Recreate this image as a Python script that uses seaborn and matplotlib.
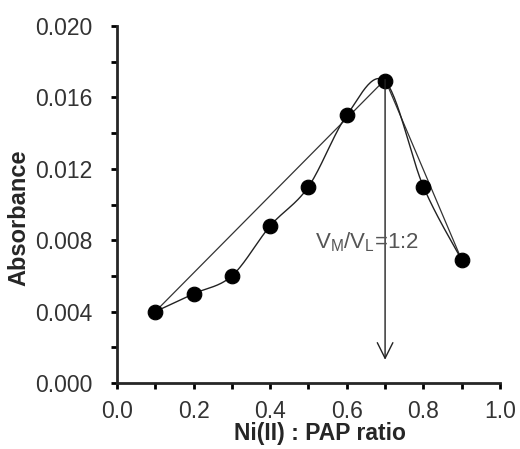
import numpy as np
import pandas as pd
import matplotlib
matplotlib.use('Agg')
import matplotlib.pyplot as plt
import seaborn as sns

# Data
ratio = [0.1, 0.2, 0.3, 0.4, 0.5, 0.6, 0.7, 0.8, 0.9]
absorbance = [0.0040, 0.0050, 0.0060, 0.0088, 0.0110, 0.0150, 0.0169, 0.0110, 0.0069]
# tangent lines of the Job plot (start, peak, end)
left_line_x = [0.1, 0.7]
left_line_y = [0.0040, 0.0170]
right_line_x = [0.7, 0.9]
right_line_y = [0.0170, 0.0069]
arrow_x = 0.7
arrow_top = 0.0170
arrow_bottom = 0.0013

df = pd.DataFrame({'ratio': ratio, 'abs': absorbance})


def smooth(x, y, n=30):
    # Excel style smoothed line (Catmull-Rom through points)
    x = np.asarray(x, float)
    y = np.asarray(y, float)
    px = np.concatenate([[x[0]], x, [x[-1]]])
    py = np.concatenate([[y[0]], y, [y[-1]]])
    xs, ys = [], []
    t = np.linspace(0, 1, n)
    for i in range(1, len(px) - 2):
        p0, p1, p2, p3 = [np.array([px[j], py[j]]) for j in range(i - 1, i + 3)]
        c1 = p1 + (p2 - p0) / 6
        c2 = p2 - (p3 - p1) / 6
        pts = ((1 - t) ** 3)[:, None] * p1 + (3 * (1 - t) ** 2 * t)[:, None] * c1 \
            + (3 * (1 - t) * t ** 2)[:, None] * c2 + (t ** 3)[:, None] * p2
        xs.extend(pts[:, 0])
        ys.extend(pts[:, 1])
    return np.array(xs), np.array(ys)


sns.set_style('ticks')
plt.rcParams['font.family'] = ['Liberation Sans', 'DejaVu Sans']

fig = plt.figure(figsize=(5.2, 4.49), dpi=100)
ax = fig.add_axes([0.225, 0.147, 0.7365, 0.795])

sx, sy = smooth(ratio, absorbance)
ax.plot(sx, sy, color='#222222', lw=1.0, zorder=2)
sns.lineplot(x=left_line_x, y=left_line_y, ax=ax, color='#333333', lw=0.9, zorder=1)
sns.lineplot(x=right_line_x, y=right_line_y, ax=ax, color='#333333', lw=0.9, zorder=1)
sns.scatterplot(data=df, x='ratio', y='abs', ax=ax, color='black', s=110,
                edgecolor='black', zorder=3)

ax.annotate('', xy=(arrow_x, arrow_bottom), xytext=(arrow_x, arrow_top),
            arrowprops=dict(arrowstyle='->', color='#222222', lw=1.0,
                            mutation_scale=28, shrinkA=0, shrinkB=0))
ax.text(0.652, 0.0079, r'V$_\mathregular{M}$/V$_\mathregular{L}$=1:2', ha='center',
        va='center', fontsize=16, color='#555555')

ax.set_xlim(0, 1.0)
ax.set_ylim(0, 0.020)
ax.set_xticks(np.arange(0, 1.01, 0.2))
ax.set_xticks(np.arange(0.1, 1.0, 0.2), minor=True)
ax.set_yticks(np.arange(0, 0.0201, 0.004))
ax.set_yticks(np.arange(0.002, 0.020, 0.004), minor=True)
ax.set_xticklabels([f'{v:.1f}' for v in np.arange(0, 1.01, 0.2)])
ax.set_yticklabels([f'{v:.3f}' for v in np.arange(0, 0.0201, 0.004)])
ax.tick_params(which='both', direction='out', length=4.5, width=2, labelsize=16.5,
               colors='black', labelcolor='#333333')
ax.tick_params(axis='y', pad=13)
ax.tick_params(axis='x', pad=8)
for side in ['left', 'bottom']:
    ax.spines[side].set_linewidth(2)
sns.despine(ax=ax)

ax.set_xlabel('Ni(II) : PAP ratio', fontsize=16.5, fontweight='bold')
ax.set_ylabel('Absorbance', fontsize=17, fontweight='bold')
ax.xaxis.set_label_coords(0.53, -0.108)
ax.yaxis.set_label_coords(-0.227, 0.462)

fig.savefig('out.png', dpi=100)
